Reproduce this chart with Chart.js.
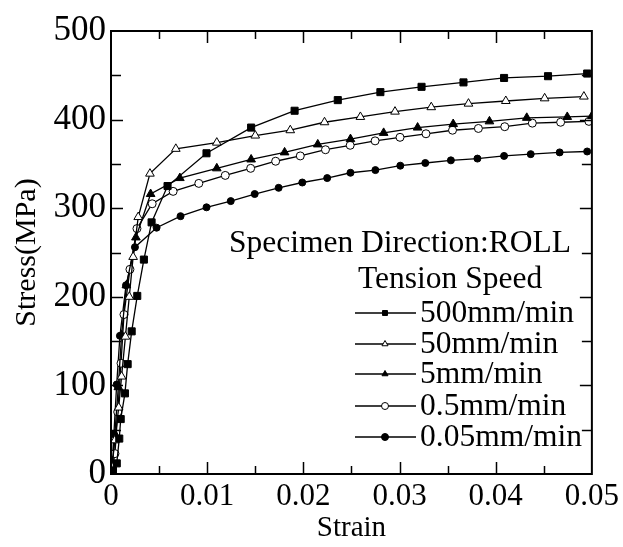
<!DOCTYPE html>
<html>
<head>
<meta charset="utf-8">
<script src="https://cdn.jsdelivr.net/npm/chart.js@4/dist/chart.umd.min.js"></script>
<style>
  html, body { margin: 0; padding: 0; background: #fff; }
  #wrap { width: 623px; height: 547px; }
</style>
</head>
<body>
<div id="wrap"><canvas id="stressChart" width="623" height="547"></canvas></div>
<script>
// Tick labels
const xTickLabels = ['0', '0.01', '0.02', '0.03', '0.04', '0.05'];
const yTickLabels = ['0', '100', '200', '300', '400', '500'];

// Series: strain / stress(MPa)
const strain500 = [0.0002, 0.0006, 0.00086, 0.00101, 0.00145, 0.00173, 0.00215, 0.00273, 0.00342, 0.00422, 0.00588, 0.00993, 0.01457, 0.01909, 0.02358, 0.02801, 0.03229, 0.03665, 0.04087, 0.04544, 0.04951];
const stress500 = [4, 12, 40, 62, 91, 124, 161, 201, 242, 284, 325, 362, 391, 410, 422, 431, 437, 442, 447, 449, 452];

const strain50 = [0.0001, 0.0004, 0.0008, 0.0011, 0.0015, 0.0019, 0.0023, 0.00283, 0.00405, 0.00674, 0.0110, 0.0150, 0.01864, 0.0222, 0.02593, 0.02953, 0.0333, 0.03717, 0.04105, 0.04509, 0.04917];
const stress50 = [8, 38, 75, 110, 155, 200, 245, 290, 339, 367, 374, 382, 388, 397, 403, 409, 414, 418, 421, 424, 426];

const strain5 = [0.0001, 0.0004, 0.00076, 0.0011, 0.0016, 0.00259, 0.00412, 0.00716, 0.0110, 0.01457, 0.01805, 0.0215, 0.0249, 0.02835, 0.03188, 0.03558, 0.03935, 0.04323, 0.04744, 0.0500];
const stress5 = [6, 45, 98, 157, 213, 267, 316, 334, 345, 355, 363, 372, 378, 385, 391, 395, 398, 402, 403, 404];

const strain05 = [0.0001, 0.00041, 0.0007, 0.00104, 0.00135, 0.00197, 0.0027, 0.00428, 0.00646, 0.00913, 0.01188, 0.01452, 0.01712, 0.01968, 0.0223, 0.02487, 0.02746, 0.03005, 0.03275, 0.03551, 0.0382, 0.04094, 0.04381, 0.04675, 0.04969];
const stress05 = [5, 23, 70, 125, 180, 231, 277, 305, 319, 328, 337, 345, 353, 359, 366, 371, 376, 380, 384, 388, 390, 392, 396, 397, 398];

const strain005 = [0.0001, 0.0003, 0.00059, 0.00093, 0.00156, 0.00249, 0.00474, 0.00723, 0.00993, 0.01245, 0.01494, 0.01743, 0.01989, 0.02248, 0.0249, 0.02749, 0.03008, 0.03268, 0.03534, 0.0381, 0.04087, 0.04364, 0.04665, 0.04951];
const stress005 = [8, 45, 101, 156, 213, 256, 278, 291, 301, 308, 316, 323, 329, 334, 340, 343, 348, 351, 354, 356, 359, 361, 363, 364];

const seriesLabels = ['500mm/min', '50mm/min', '5mm/min', '0.5mm/min', '0.05mm/min'];

function toPoints(xs, ys) {
  return xs.map(function(x, i) { return { x: x, y: ys[i] }; });
}

const serif = "'Liberation Serif', 'Times New Roman', serif";

// frame on all four sides with inward ticks
const frameTicks = {
  id: 'frameTicks',
  afterDatasetsDraw(chart) {
    const ctx = chart.ctx;
    const a = chart.chartArea;
    const xs = chart.scales.x;
    const ys = chart.scales.y;
    ctx.save();
    ctx.strokeStyle = '#000';
    ctx.lineWidth = 1.5;
    ctx.beginPath();
    for (let i = 1; i < 10; i++) {
      const px = Math.round(xs.getPixelForValue(i * 0.005)) + 0.5;
      const len = i % 2 === 0 ? 12 : 8;
      ctx.moveTo(px, a.bottom); ctx.lineTo(px, a.bottom - len);
      ctx.moveTo(px, a.top); ctx.lineTo(px, a.top + len);
    }
    for (let i = 1; i < 10; i++) {
      const py = Math.round(ys.getPixelForValue(i * 50)) + 0.5;
      const len = i % 2 === 0 ? 12 : 10;
      ctx.moveTo(a.left, py); ctx.lineTo(a.left + len, py);
      ctx.moveTo(a.right, py); ctx.lineTo(a.right - len, py);
    }
    ctx.stroke();
    ctx.lineWidth = 2;
    ctx.strokeRect(a.left, a.top, a.right - a.left, a.bottom - a.top);
    ctx.restore();
  }
};

// annotation + legend block inside the plot
const legendBox = {
  id: 'legendBox',
  afterDraw(chart) {
    const ctx = chart.ctx;
    ctx.save();
    ctx.fillStyle = '#000';
    ctx.textBaseline = 'middle';
    ctx.textAlign = 'left';
    ctx.font = '31.5px ' + serif;
    ctx.fillText('Specimen Direction:ROLL', 229, 244);
    ctx.fillText('Tension Speed', 358, 280);
    const rowY = [313, 344, 374, 406, 437];
    chart.data.datasets.forEach(function(ds, i) {
      const y = rowY[i];
      ctx.strokeStyle = '#000';
      ctx.lineWidth = 1.3;
      ctx.beginPath();
      ctx.moveTo(355, y); ctx.lineTo(416, y);
      ctx.stroke();
      ctx.fillStyle = ds.pointBackgroundColor;
      ctx.strokeStyle = '#000';
      ctx.lineWidth = 1;
      Chart.helpers.drawPoint(ctx, { pointStyle: ds.pointStyle, radius: 3.5, rotation: 0, borderWidth: 1 }, 385, y);
      ctx.fillStyle = '#000';
      ctx.fillText(seriesLabels[i], 420, y + 1);
    });
    ctx.restore();
  }
};

function makeSet(label, xs, ys, style, fill, radius) {
  return {
    label: label,
    data: toPoints(xs, ys),
    showLine: true,
    borderColor: '#000',
    borderWidth: 1.3,
    pointStyle: style,
    pointRadius: radius,
    pointBackgroundColor: fill,
    pointBorderColor: '#000',
    pointBorderWidth: 1,
    tension: 0
  };
}

new Chart(document.getElementById('stressChart').getContext('2d'), {
  type: 'scatter',
  data: {
    datasets: [
      makeSet(seriesLabels[0], strain500, stress500, 'rect', '#000', 5),
      makeSet(seriesLabels[1], strain50, stress50, 'triangle', '#fff', 5),
      makeSet(seriesLabels[2], strain5, stress5, 'triangle', '#000', 5),
      makeSet(seriesLabels[3], strain05, stress05, 'circle', '#fff', 4),
      makeSet(seriesLabels[4], strain005, stress005, 'circle', '#000', 3.5)
    ]
  },
  options: {
    responsive: false,
    animation: false,
    layout: { padding: { top: 31, right: 30, left: 0, bottom: 0 } },
    plugins: {
      legend: { display: false },
      tooltip: { enabled: false }
    },
    scales: {
      x: {
        type: 'linear',
        min: 0,
        max: 0.05,
        afterFit: function(s) { s.height = 73; },
        grid: { display: false, drawTicks: false },
        border: { display: false },
        ticks: {
          stepSize: 0.01,
          padding: 4,
          color: '#000',
          font: { family: serif, size: 31 },
          maxRotation: 0,
          callback: function(v, i) { return xTickLabels[i]; }
        },
        title: {
          display: true,
          text: 'Strain',
          color: '#000',
          font: { family: serif, size: 29 },
          padding: { top: 0, bottom: 1 }
        }
      },
      y: {
        type: 'linear',
        min: 0,
        max: 500,
        afterFit: function(s) { s.width = 111; },
        grid: { display: false, drawTicks: false },
        border: { display: false },
        ticks: {
          stepSize: 100,
          padding: 5,
          color: '#000',
          font: { family: serif, size: 35 },
          callback: function(v, i) { return yTickLabels[i]; }
        },
        title: {
          display: true,
          text: 'Stress(MPa)',
          color: '#000',
          font: { family: serif, size: 30 },
          padding: { top: 9, bottom: 0 }
        }
      }
    }
  },
  plugins: [frameTicks, legendBox]
});
</script>
</body>
</html>
